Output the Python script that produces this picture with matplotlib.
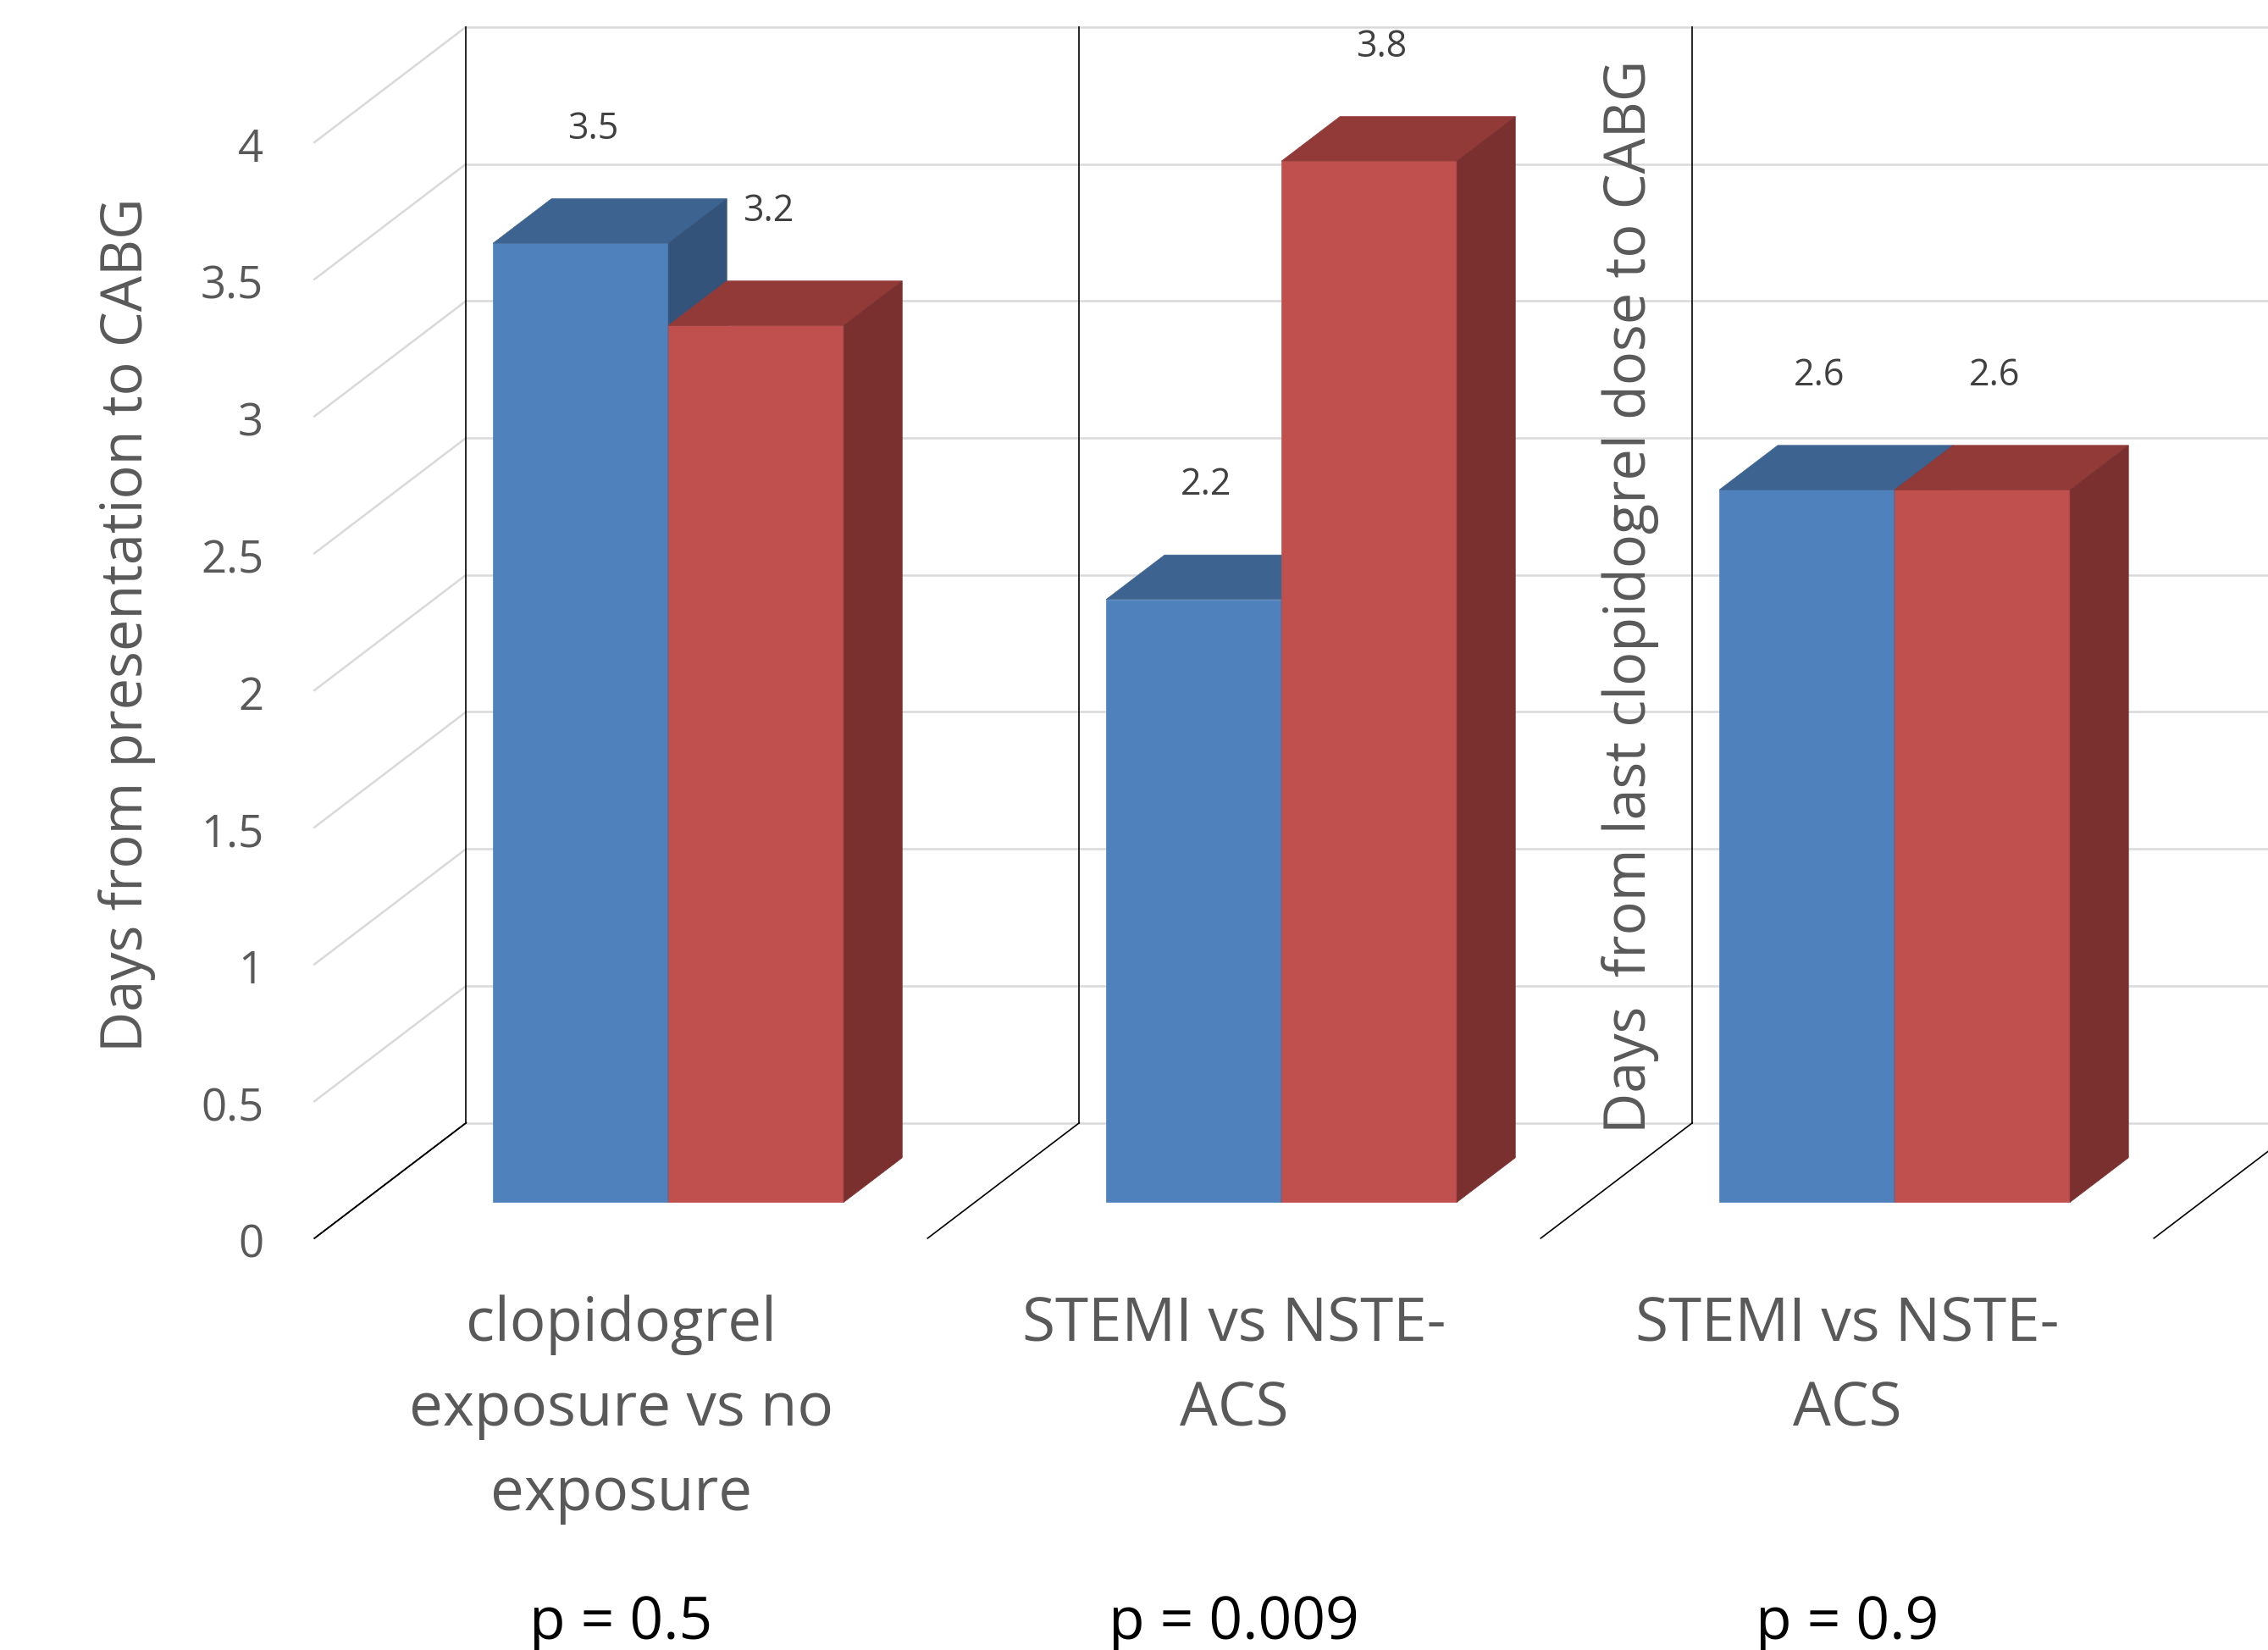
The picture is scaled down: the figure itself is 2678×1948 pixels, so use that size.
import matplotlib
matplotlib.use("Agg")
import matplotlib.pyplot as plt  # noqa: E402
from matplotlib.patches import Polygon  # noqa: E402

# data
CATEGORIES = ["clopidogrel\nexposure vs no\nexposure", "STEMI vs NSTE-\nACS", "STEMI vs NSTE-\nACS"]
SERIES_A = [3.5, 2.2, 2.6]   # blue
SERIES_B = [3.2, 3.8, 2.6]   # red
P_VALUES = ["p = 0.5", "p = 0.009", "p = 0.9"]
Y_TICKS = [0, 0.5, 1, 1.5, 2, 2.5, 3, 3.5, 4]
YLABEL_LEFT = "Days from presentation to CABG"
YLABEL_MID = "Days  from last clopidogrel dose to CABG"

plt.rcParams["font.family"] = ["Open Sans", "DejaVu Sans"]

# fake 3D: screen shift per unit of depth (0 = back wall, 1 = front of floor)
DX, DY = -0.2472, 0.421
D_FRONT, D_BACK = 0.688, 0.302
W = 0.286
GRID = "#d9d9d9"
TXT = "#595959"


def proj(x, y, d):
    return (x + (d - D_FRONT) * DX, y - (d - D_FRONT) * DY)


def bar3d(ax, x0, h, front, top, side):
    x1 = x0 + W
    faces = [
        ([proj(x0, 0, D_FRONT), proj(x1, 0, D_FRONT), proj(x1, h, D_FRONT), proj(x0, h, D_FRONT)], front),
        ([proj(x0, h, D_FRONT), proj(x1, h, D_FRONT), proj(x1, h, D_BACK), proj(x0, h, D_BACK)], top),
        ([proj(x1, 0, D_FRONT), proj(x1, 0, D_BACK), proj(x1, h, D_BACK), proj(x1, h, D_FRONT)], side),
    ]
    for pts, c in faces:
        ax.add_patch(Polygon(pts, closed=True, facecolor=c, edgecolor=c, lw=0.5, zorder=3))


fig = plt.figure(figsize=(26.78, 19.49), dpi=100)
ax = fig.add_axes([0, 0, 1, 1])
ax.set_xlim(-1.090, 2.609)
ax.set_ylim(-1.634, 4.391)
ax.axis("off")

ymax = Y_TICKS[-1]
# back wall + left wall gridlines
for v in Y_TICKS:
    (xa, ya), (xb, yb) = proj(-0.5, v, 0), proj(3.2, v, 0)
    ax.plot([xa, xb], [ya, yb], color=GRID, lw=1.8, zorder=1)
    (xa, ya), (xb, yb) = proj(-0.5, v, 1), proj(-0.5, v, 0)
    ax.plot([xa, xb], [ya, yb], color="black" if v == 0 else GRID, lw=1.8 if v else 1.2, zorder=1)
    tx, ty = proj(-0.5, v, 1)
    ax.text(tx - 0.083, ty - 0.025, f"{v:g}", ha="right", va="center", fontsize=38, color=TXT)

# dividers between categories: back-wall verticals and floor lines
for xd in [-0.5, 0.5, 1.5, 2.5]:
    (xa, ya), (xb, yb) = proj(xd, 0, 0), proj(xd, ymax, 0)
    ax.plot([xa, xb], [ya, yb], color="black", lw=1.2, zorder=2)
    (xa, ya), (xb, yb) = proj(xd, 0, 0), proj(xd, 0, 1)
    ax.plot([xa, xb], [ya, yb], color="black", lw=1.2, zorder=2)

for i, (a, b) in enumerate(zip(SERIES_A, SERIES_B)):
    bar3d(ax, i - W, a, "#4f81bd", "#3d6390", "#33537b")
    bar3d(ax, i, b, "#c0504d", "#923a38", "#7b3030")
    ax.text(i - W / 2 + 0.02, a + 0.42, f"{a:g}", ha="center", va="center", fontsize=31, color="#404040", zorder=4)
    ax.text(i + W / 2 + 0.02, b + 0.42, f"{b:g}", ha="center", va="center", fontsize=31, color="#404040", zorder=4)
    cx, _ = proj(i, 0, 1)
    ax.text(cx, -0.335, CATEGORIES[i], ha="center", va="top", fontsize=51, color=TXT, linespacing=1.52)
    ax.text(cx, -1.59, P_VALUES[i], ha="center", va="baseline", fontsize=50, color="black")

ax.text(-0.883, 2.11, YLABEL_LEFT, rotation=90, ha="center", va="center", fontsize=48, color=TXT)
ax.text(1.569, 2.215, YLABEL_MID, rotation=90, ha="center", va="center", fontsize=48, color=TXT, zorder=4)

fig.savefig("out.png", dpi=100)
